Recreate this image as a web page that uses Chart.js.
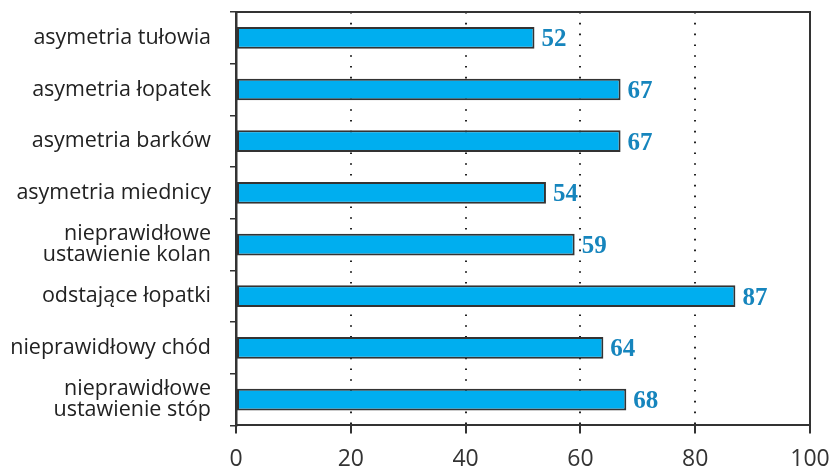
<!DOCTYPE html>
<html>
<head>
<meta charset="utf-8">
<script src="https://cdn.jsdelivr.net/npm/chart.js@4"></script>
<style>
  body { margin: 0; background: #fff; }
  #wrap { width: 832px; height: 470px; }
</style>
</head>
<body>
<div id="wrap"><canvas id="chart"></canvas></div>
<script>
const categories = [
  "asymetria tułowia",
  "asymetria łopatek",
  "asymetria barków",
  "asymetria miednicy",
  ["nieprawidłowe", "ustawienie kolan"],
  "odstające łopatki",
  "nieprawidłowy chód",
  ["nieprawidłowe", "ustawienie stóp"]
];
const values = [52, 67, 67, 54, 59, 87, 64, 68];
const xTicks = [0, 20, 40, 60, 80, 100];

// value labels next to each bar + top/right frame
const barLabels = {
  id: "barLabels",
  afterDatasetsDraw(chart) {
    const ctx = chart.ctx;
    const meta = chart.getDatasetMeta(0);
    ctx.save();
    ctx.font = "bold 25px 'Liberation Serif'";
    ctx.fillStyle = "#1685bd";
    ctx.textBaseline = "middle";
    meta.data.forEach((bar, i) => {
      ctx.fillText(values[i], bar.x + 7, bar.y + 2);
    });
    const a = chart.chartArea;
    ctx.strokeStyle = "#333";
    ctx.lineWidth = 2;
    ctx.beginPath();
    ctx.moveTo(a.left, a.top);
    ctx.lineTo(a.right, a.top);
    ctx.lineTo(a.right, a.bottom);
    ctx.stroke();
    ctx.restore();
  }
};

new Chart(document.getElementById("chart"), {
  type: "bar",
  data: {
    labels: categories,
    datasets: [{
      data: values,
      backgroundColor: "#00aeef",
      borderColor: "#333",
      borderWidth: 2,
      borderSkipped: false,
      categoryPercentage: 1,
      barPercentage: 0.42
    }]
  },
  options: {
    indexAxis: "y",
    responsive: true,
    maintainAspectRatio: false,
    animation: false,
    layout: { padding: { top: 12, right: 22, left: 4, bottom: -15 } },
    scales: {
      x: {
        min: 0,
        max: 100,
        afterBuildTicks: (axis) => { axis.ticks = xTicks.map(v => ({ value: v })); },
        afterFit: (axis) => { axis.paddingLeft = 0; axis.paddingRight = 0; },
        border: { color: "#333", width: 2, dash: [1.6, 9.2] },
        grid: {
          color: (c) => (c.tick && (c.tick.value === 0 || c.tick.value === 100)) ? "rgba(0,0,0,0)" : "#222",
          lineWidth: 2,
          tickBorderDash: [],
          tickColor: "#333",
          tickLength: 8
        },
        ticks: {
          color: "#333",
          font: { family: "Open Sans", size: 23 },
          padding: 12
        }
      },
      y: {
        border: { color: "#333", width: 2.5 },
        afterFit: (axis) => { axis.paddingTop = 0; axis.paddingBottom = 0; axis.width = 232; },
        grid: {
          offset: true,
          drawOnChartArea: false,
          tickColor: "#333",
          tickLength: 6,
          lineWidth: 1.5
        },
        ticks: {
          color: "#222",
          font: { family: "Open Sans", size: 21.5, lineHeight: 1.0 },
          padding: 19
        }
      }
    },
    plugins: {
      legend: { display: false },
      tooltip: { enabled: false }
    }
  },
  plugins: [barLabels]
});
</script>
</body>
</html>
